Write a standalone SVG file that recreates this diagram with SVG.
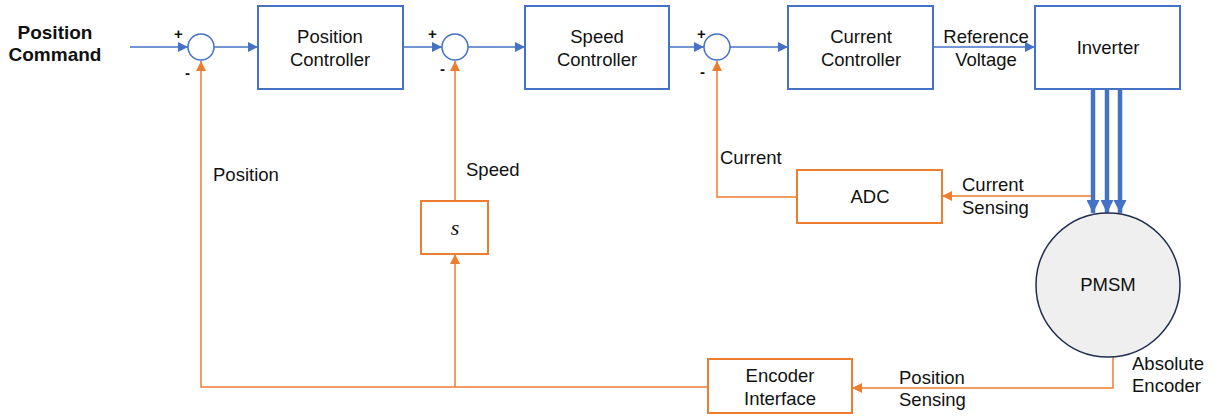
<svg xmlns="http://www.w3.org/2000/svg" width="1215" height="417" viewBox="0 0 1215 417">
<style>
.blk{fill:#fff;stroke:#4472c4;stroke-width:2}
.org{fill:#fff;stroke:#ed7d31;stroke-width:2}
.sum{fill:#fff;stroke:#4472c4;stroke-width:1.5}
.bl{fill:none;stroke:#4472c4;stroke-width:1.5}
.ol{fill:none;stroke:#ed7d31;stroke-width:1.5}
.thick{fill:none;stroke:#4472c4;stroke-width:4.5}
text{font-family:"Liberation Sans",Arial,sans-serif;font-size:18.5px;fill:#111}
.c{text-anchor:middle}
.b{font-weight:bold;font-size:19px}
.sg{font-size:15px;font-weight:bold}
</style>
<defs>
<marker id="ab" markerUnits="userSpaceOnUse" markerWidth="11" markerHeight="10" refX="10" refY="5" orient="auto"><path d="M0,0 L10,5 L0,10 z" fill="#4472c4"/></marker>
<marker id="ao" markerUnits="userSpaceOnUse" markerWidth="11" markerHeight="10" refX="10" refY="5" orient="auto"><path d="M0,0 L10,5 L0,10 z" fill="#ed7d31"/></marker>
<marker id="at" markerUnits="userSpaceOnUse" markerWidth="14" markerHeight="13" refX="13" refY="6.5" orient="auto"><path d="M0,0 L13,6.5 L0,13 z" fill="#4472c4"/></marker>
</defs>
<g id="connectors">
<line class="bl" x1="130" y1="47" x2="188" y2="47" marker-end="url(#ab)"/>
<line class="bl" x1="214" y1="47" x2="258" y2="47" marker-end="url(#ab)"/>
<line class="bl" x1="403" y1="47" x2="442" y2="47" marker-end="url(#ab)"/>
<line class="bl" x1="468" y1="47" x2="525" y2="47" marker-end="url(#ab)"/>
<line class="bl" x1="669" y1="47" x2="704" y2="47" marker-end="url(#ab)"/>
<line class="bl" x1="730" y1="47" x2="788" y2="47" marker-end="url(#ab)"/>
<line class="bl" x1="933" y1="47" x2="1035" y2="47" marker-end="url(#ab)"/>
<line class="thick" x1="1093" y1="89" x2="1093" y2="213" marker-end="url(#at)"/>
<line class="thick" x1="1107" y1="89" x2="1107" y2="213" marker-end="url(#at)"/>
<line class="thick" x1="1120" y1="89" x2="1120" y2="213" marker-end="url(#at)"/>
<line class="ol" x1="1091" y1="196" x2="942" y2="196" marker-end="url(#ao)"/>
<polyline class="ol" points="797,197 717,197 717,61" marker-end="url(#ao)"/>
<polyline class="ol" points="1113,357 1113,388 852,388" marker-end="url(#ao)"/>
<polyline class="ol" points="708,387 201,387 201,61" marker-end="url(#ao)"/>
<line class="ol" x1="455" y1="387" x2="455" y2="254" marker-end="url(#ao)"/>
<line class="ol" x1="455" y1="201" x2="455" y2="61" marker-end="url(#ao)"/>
</g>
<g id="position-command">
<text class="c b" x="55" y="39">Position</text>
<text class="c b" x="55" y="61">Command</text>
</g>
<g id="sum1">
<circle class="sum" cx="201" cy="47" r="13"/>
<text class="sg" x="174" y="39">+</text>
<text class="sg" x="185" y="78">-</text>
</g>
<g id="position-controller">
<rect class="blk" x="258" y="6" width="145" height="83"/>
<text class="c" x="330" y="43">Position</text>
<text class="c" x="330" y="66">Controller</text>
</g>
<g id="sum2">
<circle class="sum" cx="455" cy="47" r="13"/>
<text class="sg" x="428" y="39">+</text>
<text class="sg" x="440" y="74">-</text>
</g>
<g id="speed-controller">
<rect class="blk" x="525" y="6" width="144" height="83"/>
<text class="c" x="597" y="43">Speed</text>
<text class="c" x="597" y="66">Controller</text>
</g>
<g id="sum3">
<circle class="sum" cx="717" cy="47" r="13"/>
<text class="sg" x="697" y="39">+</text>
<text class="sg" x="700" y="77">-</text>
</g>
<g id="current-controller">
<rect class="blk" x="788" y="6" width="145" height="83"/>
<text class="c" x="861" y="43">Current</text>
<text class="c" x="861" y="66">Controller</text>
</g>
<g id="ref-voltage-label">
<text class="c" x="986" y="43">Reference</text>
<text class="c" x="986" y="66">Voltage</text>
</g>
<g id="inverter">
<rect class="blk" x="1035" y="6" width="145" height="83"/>
<text class="c" x="1108" y="54">Inverter</text>
</g>
<g id="pmsm">
<circle cx="1108" cy="285" r="72" fill="#efefef" stroke="#1f2d50" stroke-width="1.5"/>
<text class="c" x="1108" y="291">PMSM</text>
</g>
<g id="adc">
<rect class="org" x="797" y="170" width="145" height="53"/>
<text class="c" x="870" y="203">ADC</text>
</g>
<g id="current-sensing-label">
<text x="962" y="191">Current</text>
<text x="962" y="214">Sensing</text>
</g>
<g id="current-label"><text x="720" y="164">Current</text></g>
<g id="s-block">
<rect class="org" x="421" y="201" width="67" height="53"/>
<text x="455" y="235" text-anchor="middle" style="font-family:'Liberation Serif',serif;font-style:italic;font-size:22px">s</text>
</g>
<g id="speed-label"><text x="466" y="176">Speed</text></g>
<g id="position-label"><text x="213" y="181">Position</text></g>
<g id="encoder-interface">
<rect class="org" x="708" y="359" width="144" height="54"/>
<text class="c" x="780" y="382">Encoder</text>
<text class="c" x="780" y="405">Interface</text>
</g>
<g id="position-sensing-label">
<text x="899" y="384">Position</text>
<text x="899" y="406">Sensing</text>
</g>
<g id="absolute-encoder-label">
<text x="1132" y="370">Absolute</text>
<text x="1132" y="392">Encoder</text>
</g>
</svg>
